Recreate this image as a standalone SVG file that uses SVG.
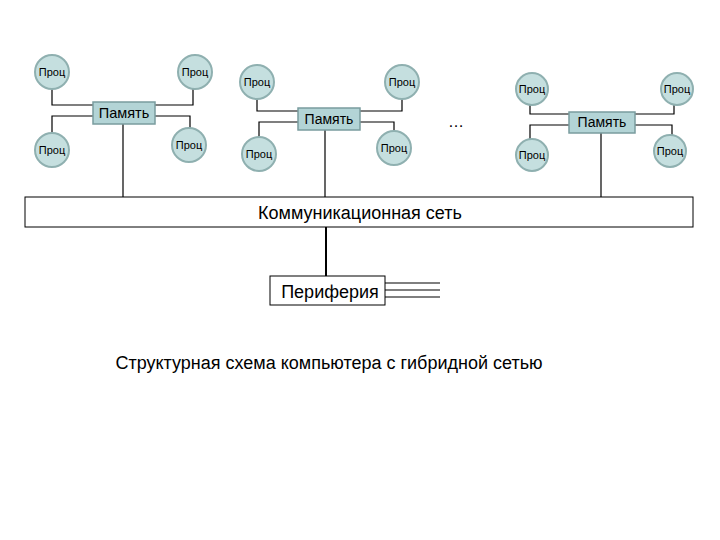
<svg xmlns="http://www.w3.org/2000/svg" width="720" height="540" viewBox="0 0 720 540">
<style>
.c{fill:#c5dfdf;stroke:#8fb0b0;stroke-width:2}
.m{fill:#b3d4d6;stroke:#7a9c9e;stroke-width:1.5}
.t{font-family:"Liberation Sans",Arial,sans-serif;fill:#000;text-anchor:middle}
.l{stroke:#000;stroke-width:1.2;fill:none}
</style>
<rect width="720" height="540" fill="#fff"/>
<g id="connectors">
<polyline class="l" points="52,89 52,105 93,105"/>
<polyline class="l" points="52,133 52,116 93,116"/>
<polyline class="l" points="155,105 193,105 193,89"/>
<polyline class="l" points="155,116 190,116 190,128"/>
<line class="l" x1="123" y1="124" x2="123" y2="197"/>
<polyline class="l" points="257,99 257,111 298,111"/>
<polyline class="l" points="259,137 259,122 298,122"/>
<polyline class="l" points="360,111 402,111 402,99"/>
<polyline class="l" points="360,122 394,122 394,131"/>
<line class="l" x1="325" y1="130" x2="325" y2="197"/>
<polyline class="l" points="530,105 530,114 569,114"/>
<polyline class="l" points="530,139 530,125 569,125"/>
<polyline class="l" points="635,114 674,114 674,105"/>
<polyline class="l" points="635,125 672,125 672,135"/>
<line class="l" x1="601" y1="133" x2="601" y2="197"/>
<line x1="326" y1="227" x2="326" y2="276" stroke="#000" stroke-width="2"/>
<line class="l" x1="385" y1="283" x2="440" y2="283"/>
<line class="l" x1="385" y1="290" x2="440" y2="290"/>
<line class="l" x1="385" y1="297" x2="440" y2="297"/>
</g>
<g id="g1">
<circle class="c" cx="52" cy="72" r="17"/><text class="t" x="52" y="76" font-size="11">Проц</text>
<circle class="c" cx="195" cy="72" r="17"/><text class="t" x="195" y="76" font-size="11">Проц</text>
<circle class="c" cx="52" cy="150" r="17"/><text class="t" x="52" y="154" font-size="11">Проц</text>
<circle class="c" cx="189" cy="145" r="17"/><text class="t" x="189" y="149" font-size="11">Проц</text>
<rect class="m" x="93" y="102" width="62" height="22"/><text class="t" x="124" y="118" font-size="14.5">Память</text>
</g>
<g id="g2">
<circle class="c" cx="257" cy="82" r="17"/><text class="t" x="257" y="86" font-size="11">Проц</text>
<circle class="c" cx="402" cy="82" r="17"/><text class="t" x="402" y="86" font-size="11">Проц</text>
<circle class="c" cx="259" cy="154" r="17"/><text class="t" x="259" y="158" font-size="11">Проц</text>
<circle class="c" cx="394" cy="148" r="17"/><text class="t" x="394" y="152" font-size="11">Проц</text>
<rect class="m" x="298" y="108" width="62" height="22"/><text class="t" x="329" y="124" font-size="14">Память</text>
</g>
<text class="t" x="456" y="127" font-size="16">…</text>
<g id="g3">
<circle class="c" cx="532" cy="89" r="16"/><text class="t" x="532" y="93" font-size="11">Проц</text>
<circle class="c" cx="677" cy="89" r="16"/><text class="t" x="677" y="93" font-size="11">Проц</text>
<circle class="c" cx="532" cy="155" r="16"/><text class="t" x="532" y="159" font-size="11">Проц</text>
<circle class="c" cx="670" cy="151" r="16"/><text class="t" x="670" y="155" font-size="11">Проц</text>
<rect class="m" x="569" y="112" width="66" height="21"/><text class="t" x="602" y="127" font-size="14">Память</text>
</g>
<g id="net">
<rect x="25" y="197" width="668" height="30" fill="#fff" stroke="#000" stroke-width="1"/>
<text class="t" x="360" y="219" font-size="18">Коммуникационная сеть</text>
</g>
<g id="periph">
<rect x="270" y="276" width="115" height="29" fill="#fff" stroke="#000" stroke-width="1"/>
<text class="t" x="330" y="298" font-size="18">Периферия</text>
</g>
<text class="t" x="329" y="369" font-size="18">Структурная схема компьютера с гибридной сетью</text>
</svg>
